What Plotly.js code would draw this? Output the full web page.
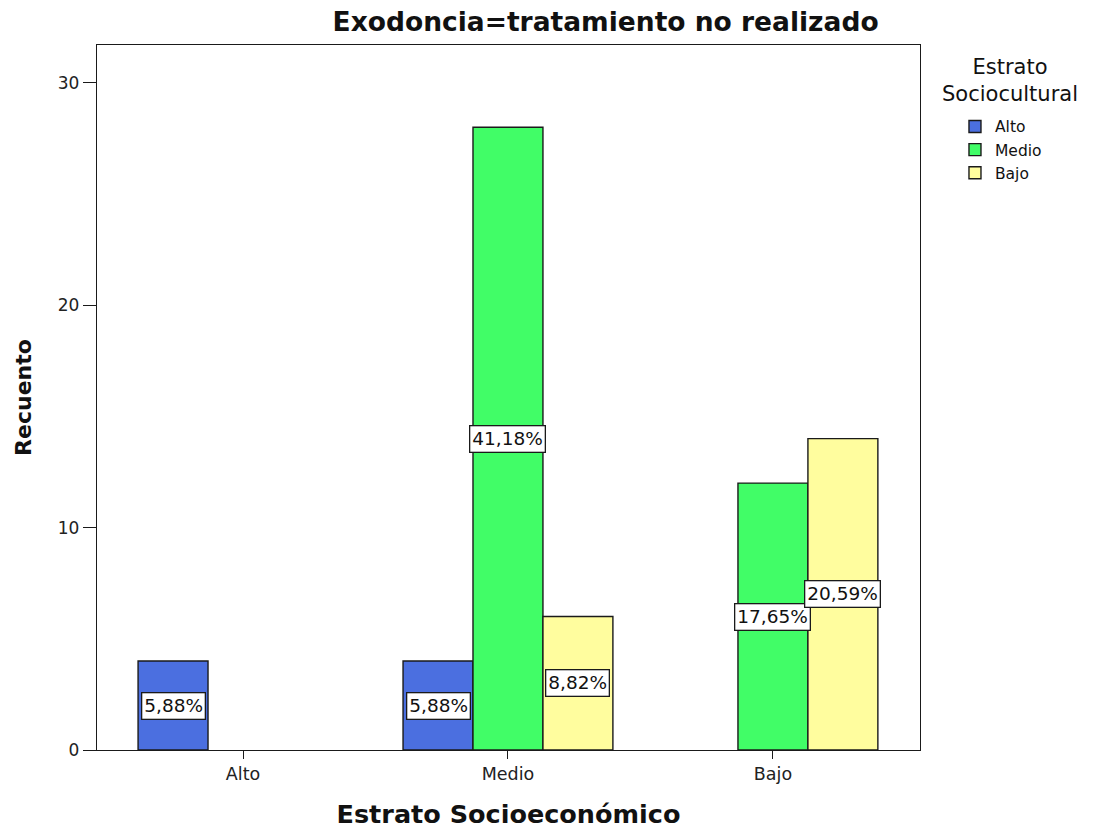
<!DOCTYPE html>
<html>
<head>
<meta charset="utf-8">
<script src="https://cdn.plot.ly/plotly-3.0.1.min.js"></script>
<style>html,body{margin:0;padding:0;background:#fff;}#chart{width:1094px;height:829px;}</style>
</head>
<body>
<div id="chart"></div>
<script>
const categories = ["Alto", "Medio", "Bajo"];
const seriesNames = ["Alto", "Medio", "Bajo"];
const valuesAlto = [4, 4, null];
const valuesMedio = [null, 28, 12];
const valuesBajo = [null, 6, 14];
const colors = ["#4b6fe0", "#41fd67", "#fffd9e"];
const legendTitle = "Estrato<br>Sociocultural";

const FONT = "DejaVu Sans, Arial, sans-serif";
const allValues = [valuesAlto, valuesMedio, valuesBajo];
const total = allValues.flat().reduce((a, b) => a + (b || 0), 0);
const bargap = 0.208;
const barW = (1 - bargap) / 3;

const traces = allValues.map((vals, i) => ({
  type: "bar",
  name: seriesNames[i],
  x: categories,
  y: vals,
  marker: {color: colors[i], line: {color: "#1a1a1a", width: 1.4}},
  hoverinfo: "none"
}));

const annotations = [];
allValues.forEach((vals, i) => {
  vals.forEach((v, j) => {
    if (v === null) return;
    annotations.push({
      x: j + (i - 1) * barW,
      y: v / 2,
      xref: "x", yref: "y",
      text: (v / total * 100).toFixed(2).replace(".", ",") + "%",
      showarrow: false,
      font: {family: FONT, size: 18.5, color: "#111"},
      bgcolor: "#ffffff",
      bordercolor: "#1a1a1a",
      borderwidth: 1.3,
      borderpad: 2
    });
  });
});
annotations.push({
  text: legendTitle,
  xref: "paper", yref: "paper",
  x: 1.109, y: 0.950, xanchor: "center", yanchor: "middle",
  align: "center", showarrow: false,
  font: {family: FONT, size: 21, color: "#111"}
});

const layout = {
  width: 1094, height: 829,
  paper_bgcolor: "#fff", plot_bgcolor: "#fff",
  margin: {l: 97, r: 174, t: 45, b: 79},
  barmode: "group",
  bargap: bargap,
  bargroupgap: 0,
  title: {
    text: "<b>Exodoncia=tratamiento no realizado</b>",
    font: {family: FONT, size: 26.5, color: "#111"},
    x: 0.618, xref: "paper", xanchor: "center",
    y: 0.974, yref: "container", yanchor: "middle"
  },
  xaxis: {
    type: "category",
    range: [-0.551, 2.555],
    showline: true, linecolor: "#1a1a1a", linewidth: 1.3, mirror: true,
    ticks: "outside", ticklen: 8, tickcolor: "#1a1a1a",
    tickfont: {family: FONT, size: 17.5, color: "#222"},
    showgrid: false, zeroline: false,
    title: {text: "<b>Estrato Socioeconómico</b>", font: {family: FONT, size: 25.5, color: "#111"}, standoff: 22}
  },
  yaxis: {
    range: [0, 31.7],
    tickvals: [0, 10, 20, 30],
    showline: true, linecolor: "#1a1a1a", linewidth: 1.3, mirror: true,
    ticks: "outside", ticklen: 13, tickcolor: "#1a1a1a",
    tickfont: {family: FONT, size: 17, color: "#222"},
    showgrid: false, zeroline: false,
    title: {text: "<b>Recuento</b>", font: {family: FONT, size: 22, color: "#111"}, standoff: 20}
  },
  legend: {
    x: 1.0425, xanchor: "left", y: 0.908, yanchor: "top",
    font: {family: FONT, size: 15.5, color: "#111"},
    tracegroupgap: 0,
    itemwidth: 30
  },
  annotations: annotations,
  showlegend: true
};

Plotly.newPlot("chart", traces, layout, {displayModeBar: false, staticPlot: true});
</script>
</body>
</html>
